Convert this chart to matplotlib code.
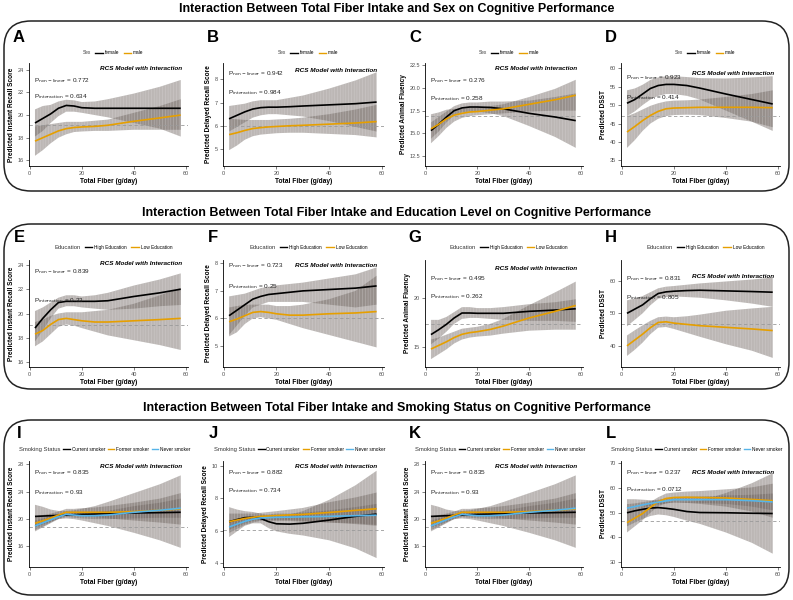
import matplotlib.pyplot as plt
from matplotlib.lines import Line2D
from matplotlib.patches import FancyBboxPatch

plt.rcParams["font.family"] = ["Liberation Sans", "DejaVu Sans"]
plt.rcParams["hatch.linewidth"] = 0.35

fiber = [2, 5, 8, 11, 14, 17, 20, 25, 30, 40, 50, 58]

sex_groups = ["female", "male"]
edu_groups = ["High Education", "Low Education"]
smk_groups = ["Current smoker", "Former smoker", "Never smoker"]

# ---- row 1: sex ----
A_fit = {"female": [19.3, 19.7, 20.1, 20.6, 20.85, 20.8, 20.65, 20.6, 20.6, 20.6, 20.6, 20.6],
         "male": [17.7, 18.0, 18.3, 18.6, 18.8, 18.9, 18.95, 19.0, 19.1, 19.45, 19.75, 20.0]}
A_lo = {"female": [18.1, 18.6, 19.3, 19.9, 20.3, 20.3, 20.2, 20.0, 19.8, 19.3, 18.8, 18.1],
        "male": [16.4, 16.9, 17.5, 18.0, 18.3, 18.5, 18.55, 18.6, 18.6, 18.7, 18.7, 18.7]}
A_hi = {"female": [20.5, 20.8, 20.9, 21.2, 21.35, 21.3, 21.15, 21.2, 21.4, 21.9, 22.5, 23.1],
        "male": [19.0, 19.1, 19.2, 19.3, 19.4, 19.4, 19.4, 19.5, 19.6, 20.2, 20.8, 21.4]}

B_fit = {"female": [6.3, 6.45, 6.6, 6.72, 6.78, 6.8, 6.8, 6.82, 6.85, 6.9, 6.95, 7.02],
         "male": [5.62, 5.7, 5.8, 5.88, 5.92, 5.95, 5.97, 6.0, 6.02, 6.07, 6.12, 6.18]}
B_lo = {"female": [5.75, 5.95, 6.15, 6.35, 6.45, 6.5, 6.5, 6.45, 6.4, 6.2, 5.95, 5.75],
        "male": [4.95, 5.15, 5.4, 5.55, 5.62, 5.65, 5.68, 5.7, 5.7, 5.65, 5.6, 5.5]}
B_hi = {"female": [6.85, 6.9, 6.95, 7.05, 7.1, 7.1, 7.1, 7.2, 7.3, 7.6, 7.95, 8.3],
        "male": [6.3, 6.28, 6.25, 6.25, 6.25, 6.25, 6.27, 6.3, 6.35, 6.5, 6.7, 6.9]}

C_fit = {"female": [15.3, 16.0, 16.8, 17.5, 17.8, 17.9, 17.9, 17.85, 17.7, 17.2, 16.8, 16.4],
         "male": [15.5, 16.0, 16.6, 17.0, 17.2, 17.35, 17.4, 17.55, 17.7, 18.2, 18.7, 19.2]}
C_lo = {"female": [14.4, 15.2, 16.2, 17.0, 17.3, 17.4, 17.4, 17.2, 16.9, 15.8, 14.6, 13.4],
        "male": [13.9, 14.7, 15.6, 16.3, 16.7, 16.9, 17.0, 17.1, 17.2, 17.4, 17.5, 17.5]}
C_hi = {"female": [16.2, 16.8, 17.4, 18.0, 18.3, 18.4, 18.4, 18.5, 18.5, 18.6, 19.0, 19.4],
        "male": [17.1, 17.3, 17.6, 17.7, 17.7, 17.8, 17.8, 18.0, 18.2, 19.0, 19.9, 20.9]}

D_fit = {"female": [50.5, 51.5, 53.0, 54.5, 55.3, 55.6, 55.6, 55.3, 54.6, 53.0, 51.5, 50.3],
         "male": [42.7, 44.2, 45.8, 47.2, 48.3, 49.0, 49.2, 49.3, 49.4, 49.4, 49.4, 49.3]}
D_lo = {"female": [47.0, 48.3, 50.0, 51.5, 52.5, 53.0, 53.0, 52.5, 51.5, 48.5, 45.5, 43.0],
        "male": [38.4, 40.5, 43.0, 45.0, 46.3, 47.0, 47.3, 47.4, 47.3, 46.5, 45.5, 44.0]}
D_hi = {"female": [54.0, 54.5, 55.5, 56.8, 57.5, 57.8, 57.8, 57.6, 57.3, 57.2, 57.5, 57.8],
        "male": [47.0, 47.8, 48.8, 49.8, 50.5, 51.0, 51.2, 51.3, 51.5, 52.2, 53.0, 54.0]}

# ---- row 2: education ----
E_fit = {"High Education": [18.8, 19.6, 20.3, 20.9, 21.0, 21.0, 21.0, 21.0, 21.05, 21.4, 21.7, 22.0],
         "Low Education": [18.3, 18.6, 19.1, 19.5, 19.6, 19.5, 19.4, 19.3, 19.3, 19.4, 19.5, 19.6]}
E_lo = {"High Education": [17.7, 18.6, 19.6, 20.4, 20.6, 20.6, 20.5, 20.4, 20.3, 20.4, 20.6, 20.7],
        "Low Education": [17.3, 17.7, 18.3, 18.9, 19.1, 19.0, 18.8, 18.5, 18.2, 17.8, 17.4, 17.0]}
E_hi = {"High Education": [20.2, 20.5, 20.9, 21.3, 21.5, 21.5, 21.4, 21.5, 21.7, 22.3, 22.8, 23.3],
        "Low Education": [19.3, 19.5, 19.8, 20.0, 20.1, 20.1, 20.1, 20.2, 20.3, 20.8, 21.5, 22.1]}

F_fit = {"High Education": [6.1, 6.3, 6.5, 6.7, 6.8, 6.87, 6.9, 6.95, 7.0, 7.05, 7.1, 7.18],
         "Low Education": [5.88, 5.98, 6.1, 6.22, 6.25, 6.22, 6.17, 6.12, 6.12, 6.17, 6.2, 6.25]}
F_lo = {"High Education": [5.4, 5.75, 6.1, 6.4, 6.5, 6.6, 6.6, 6.6, 6.6, 6.5, 6.4, 6.5],
        "Low Education": [5.35, 5.5, 5.8, 6.0, 6.05, 6.0, 5.95, 5.8, 5.65, 5.4, 5.15, 4.95]}
F_hi = {"High Education": [6.8, 6.85, 6.9, 7.0, 7.1, 7.15, 7.2, 7.25, 7.3, 7.45, 7.6, 7.85],
        "Low Education": [6.4, 6.45, 6.5, 6.5, 6.5, 6.5, 6.45, 6.45, 6.5, 6.7, 7.0, 7.55]}

G_fit = {"High Education": [16.3, 16.8, 17.35, 18.0, 18.5, 18.5, 18.47, 18.47, 18.47, 18.67, 18.8, 18.93],
         "Low Education": [14.83, 15.2, 15.57, 16.0, 16.33, 16.5, 16.6, 16.83, 17.17, 18.0, 18.67, 19.27]}
G_lo = {"High Education": [15.3, 15.9, 16.6, 17.4, 17.9, 18.0, 18.0, 17.9, 17.8, 17.7, 17.7, 17.6],
        "Low Education": [13.8, 14.3, 14.8, 15.4, 15.8, 16.0, 16.1, 16.2, 16.4, 16.7, 16.8, 16.8]}
G_hi = {"High Education": [17.8, 17.8, 18.1, 18.6, 19.1, 19.1, 19.0, 19.0, 19.1, 19.4, 19.6, 19.9],
        "Low Education": [15.8, 16.0, 16.3, 16.6, 16.9, 17.0, 17.1, 17.4, 17.9, 19.3, 20.6, 21.7]}

H_fit = {"High Education": [50.0, 51.3, 52.6, 54.5, 56.1, 56.6, 56.8, 57.0, 57.1, 56.9, 56.7, 56.5],
         "Low Education": [40.0, 41.8, 43.6, 45.6, 47.2, 47.4, 47.0, 46.6, 46.2, 45.7, 45.2, 44.7]}
H_lo = {"High Education": [46.0, 48.0, 50.0, 52.5, 54.5, 55.0, 55.2, 55.0, 54.8, 54.0, 53.0, 52.0],
        "Low Education": [36.9, 38.8, 41.0, 43.6, 45.6, 45.8, 45.2, 44.0, 42.8, 40.5, 38.5, 36.3]}
H_hi = {"High Education": [54.0, 54.6, 55.3, 56.5, 57.7, 58.2, 58.4, 58.8, 59.2, 59.8, 60.4, 61.0],
        "Low Education": [43.2, 44.8, 46.3, 47.7, 48.8, 49.0, 48.8, 49.1, 49.6, 50.8, 51.5, 52.0]}

# ---- row 3: smoking ----
I_fit = {"Current smoker": [20.4, 20.45, 20.5, 20.55, 20.6, 20.65, 20.7, 20.75, 20.8, 20.9, 20.95, 21.0],
         "Former smoker": [19.4, 19.75, 20.15, 20.6, 21.0, 21.0, 21.0, 21.0, 21.0, 21.1, 21.3, 21.5],
         "Never smoker": [19.0, 19.45, 19.9, 20.35, 20.7, 20.6, 20.5, 20.5, 20.6, 21.0, 21.3, 21.6]}
I_lo = {"Current smoker": [18.8, 19.2, 19.6, 20.0, 20.1, 20.0, 19.8, 19.4, 19.0, 18.0, 16.9, 15.8],
        "Former smoker": [18.4, 18.9, 19.5, 20.1, 20.5, 20.5, 20.4, 20.3, 20.1, 19.8, 19.5, 19.2],
        "Never smoker": [18.2, 18.8, 19.4, 20.0, 20.3, 20.2, 20.1, 20.0, 20.0, 20.1, 20.2, 20.2]}
I_hi = {"Current smoker": [22.1, 21.8, 21.4, 21.2, 21.2, 21.3, 21.5, 21.9, 22.5, 23.8, 25.1, 26.4],
        "Former smoker": [20.4, 20.6, 20.8, 21.1, 21.5, 21.5, 21.6, 21.7, 21.9, 22.4, 23.0, 23.8],
        "Never smoker": [19.8, 20.1, 20.4, 20.7, 21.1, 21.0, 20.9, 21.0, 21.2, 21.9, 22.4, 23.0]}

J_fit = {"Current smoker": [6.55, 6.68, 6.8, 6.82, 6.75, 6.55, 6.42, 6.4, 6.45, 6.65, 6.88, 7.02],
         "Former smoker": [6.55, 6.65, 6.75, 6.82, 6.88, 6.9, 6.93, 6.97, 7.0, 7.12, 7.25, 7.35],
         "Never smoker": [6.22, 6.4, 6.57, 6.7, 6.78, 6.8, 6.82, 6.83, 6.85, 6.88, 6.92, 6.95]}
J_lo = {"Current smoker": [5.6, 5.95, 6.3, 6.45, 6.45, 6.15, 5.95, 5.8, 5.7, 5.4, 4.9, 4.3],
        "Former smoker": [6.05, 6.25, 6.45, 6.6, 6.65, 6.65, 6.65, 6.65, 6.6, 6.5, 6.45, 6.35],
        "Never smoker": [5.85, 6.1, 6.35, 6.5, 6.6, 6.6, 6.6, 6.6, 6.55, 6.5, 6.4, 6.3]}
J_hi = {"Current smoker": [7.45, 7.3, 7.2, 7.15, 7.05, 6.95, 6.9, 7.0, 7.2, 7.9, 8.8, 9.7],
        "Former smoker": [7.05, 7.05, 7.05, 7.05, 7.1, 7.15, 7.2, 7.3, 7.4, 7.75, 8.05, 8.35],
        "Never smoker": [6.6, 6.7, 6.8, 6.9, 6.95, 7.0, 7.05, 7.05, 7.1, 7.25, 7.45, 7.65]}

# panel K repeats the instant recall model of panel I
K_fit, K_lo, K_hi = I_fit, I_lo, I_hi

L_fit = {"Current smoker": [50.0, 50.8, 51.4, 51.9, 52.1, 51.8, 51.4, 50.5, 50.1, 50.0, 49.8, 49.7],
         "Former smoker": [46.0, 47.8, 49.7, 52.2, 54.5, 55.8, 56.2, 56.3, 56.2, 56.0, 55.4, 54.9],
         "Never smoker": [51.9, 52.5, 53.2, 53.8, 54.3, 54.8, 55.3, 55.3, 55.3, 55.3, 54.9, 54.4]}
L_lo = {"Current smoker": [44.5, 46.0, 47.5, 48.7, 49.3, 49.0, 48.3, 46.8, 45.5, 42.0, 37.8, 33.4],
        "Former smoker": [42.0, 44.5, 47.0, 50.0, 52.7, 53.8, 54.2, 54.0, 53.6, 52.5, 50.5, 48.0],
        "Never smoker": [50.3, 51.2, 52.1, 52.8, 53.3, 53.8, 54.2, 54.1, 54.0, 53.6, 52.5, 51.0]}
L_hi = {"Current smoker": [55.5, 55.5, 55.3, 55.1, 54.9, 54.6, 54.5, 54.5, 54.8, 58.0, 62.0, 66.0],
        "Former smoker": [50.0, 51.1, 52.4, 54.4, 56.3, 57.8, 58.2, 58.6, 58.8, 59.5, 60.3, 61.8],
        "Never smoker": [53.5, 53.8, 54.3, 54.8, 55.3, 55.8, 56.4, 56.5, 56.6, 57.0, 57.3, 57.8]}

ref_level = {"A": 19.1, "B": 6.0, "C": 16.9, "D": 47.0, "E": 19.05, "F": 6.02,
             "G": 17.4, "H": 46.8, "I": 18.9, "J": 6.05, "K": 18.9, "L": 46.8}
p_nonlinear = {"A": "0.772", "B": "0.942", "C": "0.276", "D": "0.923", "E": "0.839", "F": "0.723",
               "G": "0.495", "H": "0.831", "I": "0.835", "J": "0.882", "K": "0.835", "L": "0.237"}
p_interaction = {"A": "0.634", "B": "0.984", "C": "0.258", "D": "0.414", "E": "0.33", "F": "0.25",
                 "G": "0.262", "H": "0.805", "I": "0.93", "J": "0.734", "K": "0.93", "L": "0.0712"}

y_instant = "Predicted Instant Recall Score"
y_delayed = "Predicted Delayed Recall Score"
y_fluency = "Predicted Animal Fluency"
y_dsst = "Predicted DSST"

row_titles = [
    "Interaction Between Total Fiber Intake and Sex on Cognitive Performance",
    "Interaction Between Total Fiber Intake and Education Level on Cognitive Performance",
    "Interaction Between Total Fiber Intake and Smoking Status on Cognitive Performance",
]
legend_titles = ["Sex", "Education", "Smoking Status"]

colors = {"female": "#000000", "male": "#E69F00",
          "High Education": "#000000", "Low Education": "#E69F00",
          "Current smoker": "#000000", "Former smoker": "#E69F00", "Never smoker": "#56B4E9"}

panels = [
    # letter, fit, lo, hi, groups, ylabel, ylim, yticks, yticklabels
    ("A", A_fit, A_lo, A_hi, sex_groups, y_instant, (15.5, 24.6), [16, 18, 20, 22, 24], None),
    ("B", B_fit, B_lo, B_hi, sex_groups, y_delayed, (4.27, 8.7), [5, 6, 7, 8], None),
    ("C", C_fit, C_lo, C_hi, sex_groups, y_fluency, (11.4, 22.75), [12.5, 15, 17.5, 20, 22.5],
     ["12.5", "15.0", "17.5", "20.0", "22.5"]),
    ("D", D_fit, D_lo, D_hi, sex_groups, y_dsst, (33.5, 61.4), [35, 40, 45, 50, 55, 60], None),
    ("E", E_fit, E_lo, E_hi, edu_groups, y_instant, (15.6, 24.4), [16, 18, 20, 22, 24], None),
    ("F", F_fit, F_lo, F_hi, edu_groups, y_delayed, (4.24, 8.12), [5, 6, 7, 8], None),
    ("G", G_fit, G_lo, G_hi, edu_groups, y_fluency, (13.0, 23.9), [15, 20], None),
    ("H", H_fit, H_lo, H_hi, edu_groups, y_dsst, (33.5, 66.4), [40, 50, 60], None),
    ("I", I_fit, I_lo, I_hi, smk_groups, y_instant, (13.0, 28.5), [16, 20, 24, 28], None),
    ("J", J_fit, J_lo, J_hi, smk_groups, y_delayed, (3.75, 10.3), [4, 6, 8, 10], None),
    ("K", K_fit, K_lo, K_hi, smk_groups, y_instant, (13.0, 28.5), [16, 20, 24, 28], None),
    ("L", L_fit, L_lo, L_hi, smk_groups, y_dsst, (28.0, 71.0), [30, 40, 50, 60, 70], None),
]

# layout (pixels of a 793x600 canvas)
W, H = 793.0, 600.0
col_left = [29, 223, 425, 621]
col_right = [188, 384, 583, 780]
row_top = [63, 260, 461]
row_bottom = [166, 367, 567]
title_y = [9, 213, 408]
box_y = [(21, 191), (224, 389), (420, 595)]
letter_y = [37, 237, 434]
legend_y = [1.10, 1.12, 1.11]
# y positions (axes fraction) of P non-linear, P interaction and model label
text_y = {"A": (0.83, 0.67, 0.95), "B": (0.90, 0.71, 0.93), "C": (0.83, 0.65, 0.95),
          "D": (0.86, 0.66, 0.90), "E": (0.89, 0.62, 0.97), "F": (0.95, 0.75, 0.95),
          "G": (0.83, 0.66, 0.92), "H": (0.83, 0.65, 0.85), "I": (0.89, 0.70, 0.95),
          "J": (0.89, 0.72, 0.95), "K": (0.89, 0.70, 0.95), "L": (0.89, 0.73, 0.89)}

band_face = (0.42, 0.38, 0.36, 0.45)
band_hatch = (1.0, 1.0, 1.0, 0.28)

fig = plt.figure(figsize=(W / 100, H / 100), dpi=100)

for r in range(3):
    y0, y1 = box_y[r]
    box = FancyBboxPatch((4 / 100, (H - y1) / 100), 785 / 100, (y1 - y0) / 100,
                         boxstyle="round,pad=0,rounding_size=0.27",
                         transform=fig.dpi_scale_trans, facecolor="none",
                         edgecolor="#222222", linewidth=1.1)
    fig.add_artist(box)
    fig.text(0.5, 1 - title_y[r] / H, row_titles[r], ha="center", va="center",
             fontsize=9.0, fontweight="bold")

for i, (letter, fit, lo, hi, groups, ylabel, ylim, yticks, ytl) in enumerate(panels):
    r, c = divmod(i, 4)
    left, right = col_left[c], col_right[c]
    top, bottom = row_top[r], row_bottom[r]
    ax = fig.add_axes([left / W, 1 - bottom / H, (right - left) / W, (bottom - top) / H])

    for g in groups:
        ax.fill_between(fiber, lo[g], hi[g], facecolor=band_face, edgecolor=band_hatch,
                        hatch="||||||", linewidth=0)
    ax.axhline(ref_level[letter], color="#9a9a9a", lw=0.6, ls=(0, (4, 3)))
    for g in groups:
        ax.plot(fiber, fit[g], color=colors[g], lw=1.2, solid_capstyle="butt")

    ax.set_xlim(-0.3, 60.8)
    ax.set_xticks([0, 20, 40, 60])
    ax.set_ylim(*ylim)
    ax.set_yticks(yticks)
    if ytl is not None:
        ax.set_yticklabels(ytl)
    for side in ("top", "right"):
        ax.spines[side].set_visible(False)
    for side in ("left", "bottom"):
        ax.spines[side].set_linewidth(0.6)
    ax.tick_params(labelsize=4, colors="#4d4d4d", length=2, width=0.5, pad=1.5)
    ax.set_xlabel("Total Fiber (g/day)", fontsize=4.8, fontweight="bold", labelpad=1.2)
    ax.set_ylabel(ylabel, fontsize=4.7, fontweight="bold", labelpad=2)

    ty_nl, ty_int, ty_rcs = text_y[letter]
    ax.text(0.03, ty_nl, r"P$_{\mathrm{non-linear}}$ = " + p_nonlinear[letter],
            transform=ax.transAxes, fontsize=4.6, va="center", color="#222222")
    ax.text(0.03, ty_int, r"P$_{\mathrm{interaction}}$ = " + p_interaction[letter],
            transform=ax.transAxes, fontsize=4.6, va="center", color="#222222")
    ax.text(0.96, ty_rcs, "RCS Model with Interaction", transform=ax.transAxes,
            fontsize=4.6, ha="right", va="center", fontweight="bold", style="italic")

    handles = [Line2D([], [], color="none")] + [Line2D([], [], color=colors[g], lw=1.0) for g in groups]
    labels = [legend_titles[r]] + groups
    leg = ax.legend(handles, labels, ncol=len(labels), loc="center",
                    bbox_to_anchor=(0.45 if r == 2 else 0.5, legend_y[r]), frameon=False,
                    fontsize=3.4, handlelength=1.3 if r == 2 else 1.6, handletextpad=0.4,
                    columnspacing=0.6 if r == 2 else 0.9, borderaxespad=0, borderpad=0)
    if r > 0:
        leg.get_texts()[0].set_fontsize(4.2)
    leg.get_texts()[0].set_color("#333333")

    fig.text((left - 10) / W, 1 - letter_y[r] / H, letter,
             fontsize=12, fontweight="bold", ha="center", va="center")

fig.savefig("out.png", dpi=100)
